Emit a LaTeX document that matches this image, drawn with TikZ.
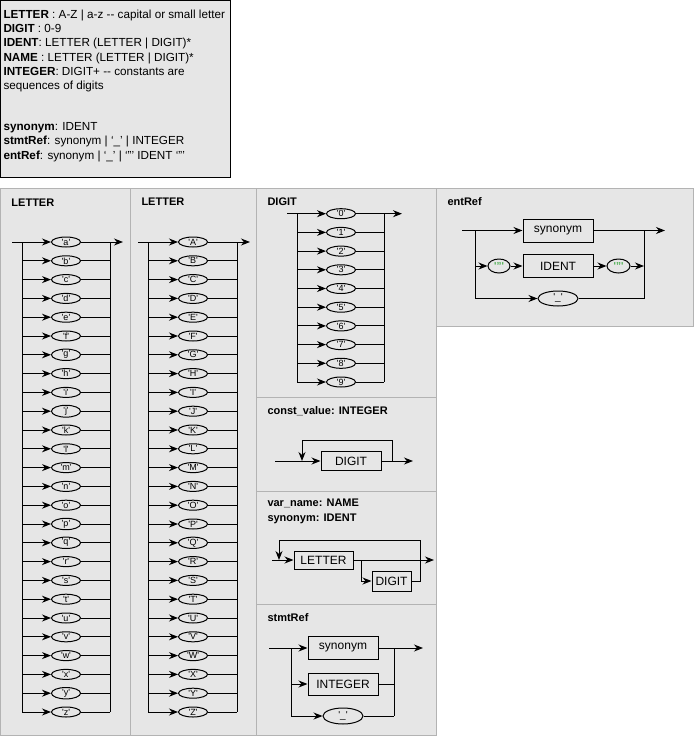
\documentclass[tikz,border=0pt]{standalone}
\usepackage{fontspec}
\setmainfont{Liberation Sans}
\usetikzlibrary{shapes.geometric,arrows.meta}
\definecolor{pfill}{HTML}{E6E6E6}
\definecolor{pline}{HTML}{B3B3B3}
\definecolor{qgreen}{HTML}{4CAF50}
\newcommand\sq[1]{\textquotesingle#1\textquotesingle}
\begin{document}
\begin{tikzpicture}[x=1pt,y=-1pt, line width=1pt,
  panel/.style={draw=pline, fill=pfill, line width=1pt},
  ptitle/.style={anchor=west, font=\fontsize{11}{13}\selectfont\bfseries, inner sep=0},
  term/.style={ellipse, draw, inner sep=0, minimum width=29pt, minimum height=10pt, font=\fontsize{9}{10}\selectfont},
  nterm/.style={rectangle, draw, inner sep=0, font=\fontsize{12}{14}\selectfont},
  arr/.style={-{Stealth[length=9pt,width=7pt]}},
  deftext/.style={anchor=base west, inner sep=0, font=\fontsize{11.7}{14}\selectfont}
]
\fill[white] (0,0) rectangle (694,737);
\useasboundingbox (0,0) rectangle (694,737);

% definitions box
\draw[fill=pfill, draw=black] (0.5,0.5) rectangle (230.5,177.5);
\node[deftext] (d1) at (3,18.3) {\textbf{LETTER} : A-Z | a-z -{}- capital or small letter};
\node[deftext] (d2) at (3,32.6) {\textbf{DIGIT} : 0-9};
\node[deftext] (d3) at (3,46.9) {\textbf{IDENT}: LETTER (LETTER | DIGIT)*};
\node[deftext] (d4) at (3,61.2) {\textbf{NAME} : LETTER (LETTER | DIGIT)*};
\node[deftext] (d5) at (3,75.5) {\textbf{INTEGER}: DIGIT+ -{}- constants are};
\node[deftext] (d6) at (3,89.8) {sequences of digits};
\node[deftext] (d7) at (3,130.3) {\textbf{synonym}: IDENT};
\node[deftext] (d8) at (3,144.8) {\textbf{stmtRef}: synonym | ‘\_’ | INTEGER};
\node[deftext] (d9) at (3,159.3) {\textbf{entRef}: synonym | ‘\_’ | ‘"’ IDENT ‘"’};

% panels
\draw[panel] (0.5,188.5) rectangle (130.5,735.5);
\draw[panel] (130.5,188.5) rectangle (256.5,735.5);
\draw[panel] (256.5,188.5) rectangle (436.5,397.5);
\draw[panel] (256.5,397.5) rectangle (436.5,491.5);
\draw[panel] (256.5,491.5) rectangle (436.5,604.5);
\draw[panel] (256.5,604.5) rectangle (436.5,735.5);
\draw[panel] (436.5,188.5) rectangle (693.5,326.5);

% titles
\node[ptitle] (tlo) at (11,203) {LETTER};
\node[ptitle] (tup) at (141,202) {LETTER};
\node[ptitle] (tdg) at (267,202) {DIGIT};
\node[ptitle] (ter) at (447,202) {entRef};
\node[ptitle] (tcv) at (267,411.5) {const\_value: INTEGER};
\node[ptitle] (tvn) at (267,503) {var\_name: NAME};
\node[ptitle] (tsy) at (267,519) {synonym: IDENT};
\node[ptitle] (tst) at (267,618) {stmtRef};

% lowercase letters
\foreach \c [count=\i from 0, evaluate=\i as \yy using 242+\i*18.8] in {a,...,z} {
  \node[term] (lo\c) at (66,\yy) {\sq{\c}};
  \coordinate (loL\c) at (22,\yy);
  \coordinate (loR\c) at (110,\yy);
  \draw[arr] (loL\c) -- (lo\c);
  \draw (lo\c) -- (loR\c);
}
\coordinate (loIn) at (12,242);
\coordinate (loOut) at (123,242);
\draw (loIn) -- (loLa);
\draw (loLa) -- (loLz);
\draw (loRa) -- (loRz);
\draw[arr] (loRa) -- (loOut);

% uppercase letters
\foreach \c [count=\i from 0, evaluate=\i as \yy using 242+\i*18.8] in {A,...,Z} {
  \node[term] (up\c) at (193,\yy) {\sq{\c}};
  \coordinate (upL\c) at (148,\yy);
  \coordinate (upR\c) at (237,\yy);
  \draw[arr] (upL\c) -- (up\c);
  \draw (up\c) -- (upR\c);
}
\coordinate (upIn) at (138,242);
\coordinate (upOut) at (250,242);
\draw (upIn) -- (upLA);
\draw (upLA) -- (upLZ);
\draw (upRA) -- (upRZ);
\draw[arr] (upRA) -- (upOut);

% digits
\foreach \d [evaluate=\d as \yy using 213.7+\d*18.7] in {0,...,9} {
  \node[term] (dg\d) at (341,\yy) {\sq{\d}};
  \coordinate (dgL\d) at (297,\yy);
  \coordinate (dgR\d) at (384,\yy);
  \draw[arr] (dgL\d) -- (dg\d);
  \draw (dg\d) -- (dgR\d);
}
\coordinate (dgIn) at (287,213.7);
\coordinate (dgOut) at (402,213.7);
\draw (dgIn) -- (dgL0);
\draw (dgL0) -- (dgL9);
\draw (dgR0) -- (dgR9);
\draw[arr] (dgR0) -- (dgOut);

% entRef
\node[nterm, minimum width=70pt, minimum height=23pt] (eSyn) at (558,230.5) {synonym};
\node[nterm, minimum width=70pt, minimum height=23pt] (eId) at (558,266) {IDENT};
\node[term, minimum width=22pt, minimum height=14pt, font=\fontsize{10}{11}\selectfont\bfseries] (eQ1) at (499,266) {\textcolor{qgreen}{\sq{"}}};
\node[term, minimum width=23pt, minimum height=14pt, font=\fontsize{10}{11}\selectfont\bfseries] (eQ2) at (618.5,266) {\textcolor{qgreen}{\sq{"}}};
\node[term, minimum width=40pt, minimum height=15pt, font=\fontsize{10}{11}\selectfont] (eU) at (558,298.5) {\sq{\_}};
\coordinate (eIn) at (462,230.5);
\coordinate (eL1) at (475,230.5);
\coordinate (eL2) at (475,266);
\coordinate (eL3) at (475,298.5);
\coordinate (eR1) at (644,230.5);
\coordinate (eR2) at (644,266);
\coordinate (eR3) at (644,298.5);
\coordinate (eOut) at (665,230.5);
\draw[arr] (eIn) -- (eSyn);
\draw (eSyn) -- (eR1);
\draw[arr] (eR1) -- (eOut);
\draw (eL1) -- (eL3);
\draw (eR1) -- (eR3);
\draw[arr] (eL2) -- (eQ1);
\draw[arr] (eQ1) -- (eId);
\draw[arr] (eId) -- (eQ2);
\draw[arr] (eQ2) -- (eR2);
\draw[arr] (eL3) -- (eU);
\draw (eU) -- (eR3);

% const_value
\node[nterm, minimum width=60pt, minimum height=19pt] (cD) at (351,461) {DIGIT};
\coordinate (cIn) at (275,461);
\coordinate (cOut) at (413,461);
\coordinate (cLoopR) at (392,461);
\coordinate (cLoopL) at (302,461);
\draw[arr] (cIn) -- (cD);
\draw[arr] (cD) -- (cOut);
\draw[arr] (cLoopR) -- ++(0,-21) -| (cLoopL);

% var_name
\node[nterm, minimum width=59pt, minimum height=18pt] (vL) at (323.5,560) {LETTER};
\node[nterm, minimum width=39pt, minimum height=20pt] (vD) at (391.5,581) {DIGIT};
\coordinate (vIn) at (272,560);
\coordinate (vOut) at (434,560);
\coordinate (vB) at (361,560);
\coordinate (vB2) at (361,581);
\coordinate (vR) at (420,581);
\coordinate (vLoop) at (279,560);
\draw[arr] (vIn) -- (vL);
\draw[arr] (vL) -- (vOut);
\draw[arr] (vB) -- (vB2) -- (vD);
\draw[arr] (vD) -- (vR) -- ++(0,-41) -| (vLoop);

% stmtRef
\node[nterm, minimum width=70pt, minimum height=23pt] (sSyn) at (343,648) {synonym};
\node[nterm, minimum width=70pt, minimum height=22pt] (sInt) at (343,684) {INTEGER};
\node[term, minimum width=40pt, minimum height=16pt, font=\fontsize{10}{11}\selectfont] (sU) at (343,716) {\sq{\_}};
\coordinate (sIn) at (269,648);
\coordinate (sL1) at (291,648);
\coordinate (sL2) at (291,684);
\coordinate (sL3) at (291,716);
\coordinate (sR1) at (394,648);
\coordinate (sR2) at (394,684);
\coordinate (sR3) at (394,716);
\coordinate (sOut) at (423,648);
\draw[arr] (sIn) -- (sSyn);
\draw (sSyn) -- (sR1);
\draw[arr] (sR1) -- (sOut);
\draw (sL1) -- (sL3);
\draw (sR1) -- (sR3);
\draw[arr] (sL2) -- (sInt);
\draw (sInt) -- (sR2);
\draw[arr] (sL3) -- (sU);
\draw (sU) -- (sR3);
\end{tikzpicture}
\end{document}
